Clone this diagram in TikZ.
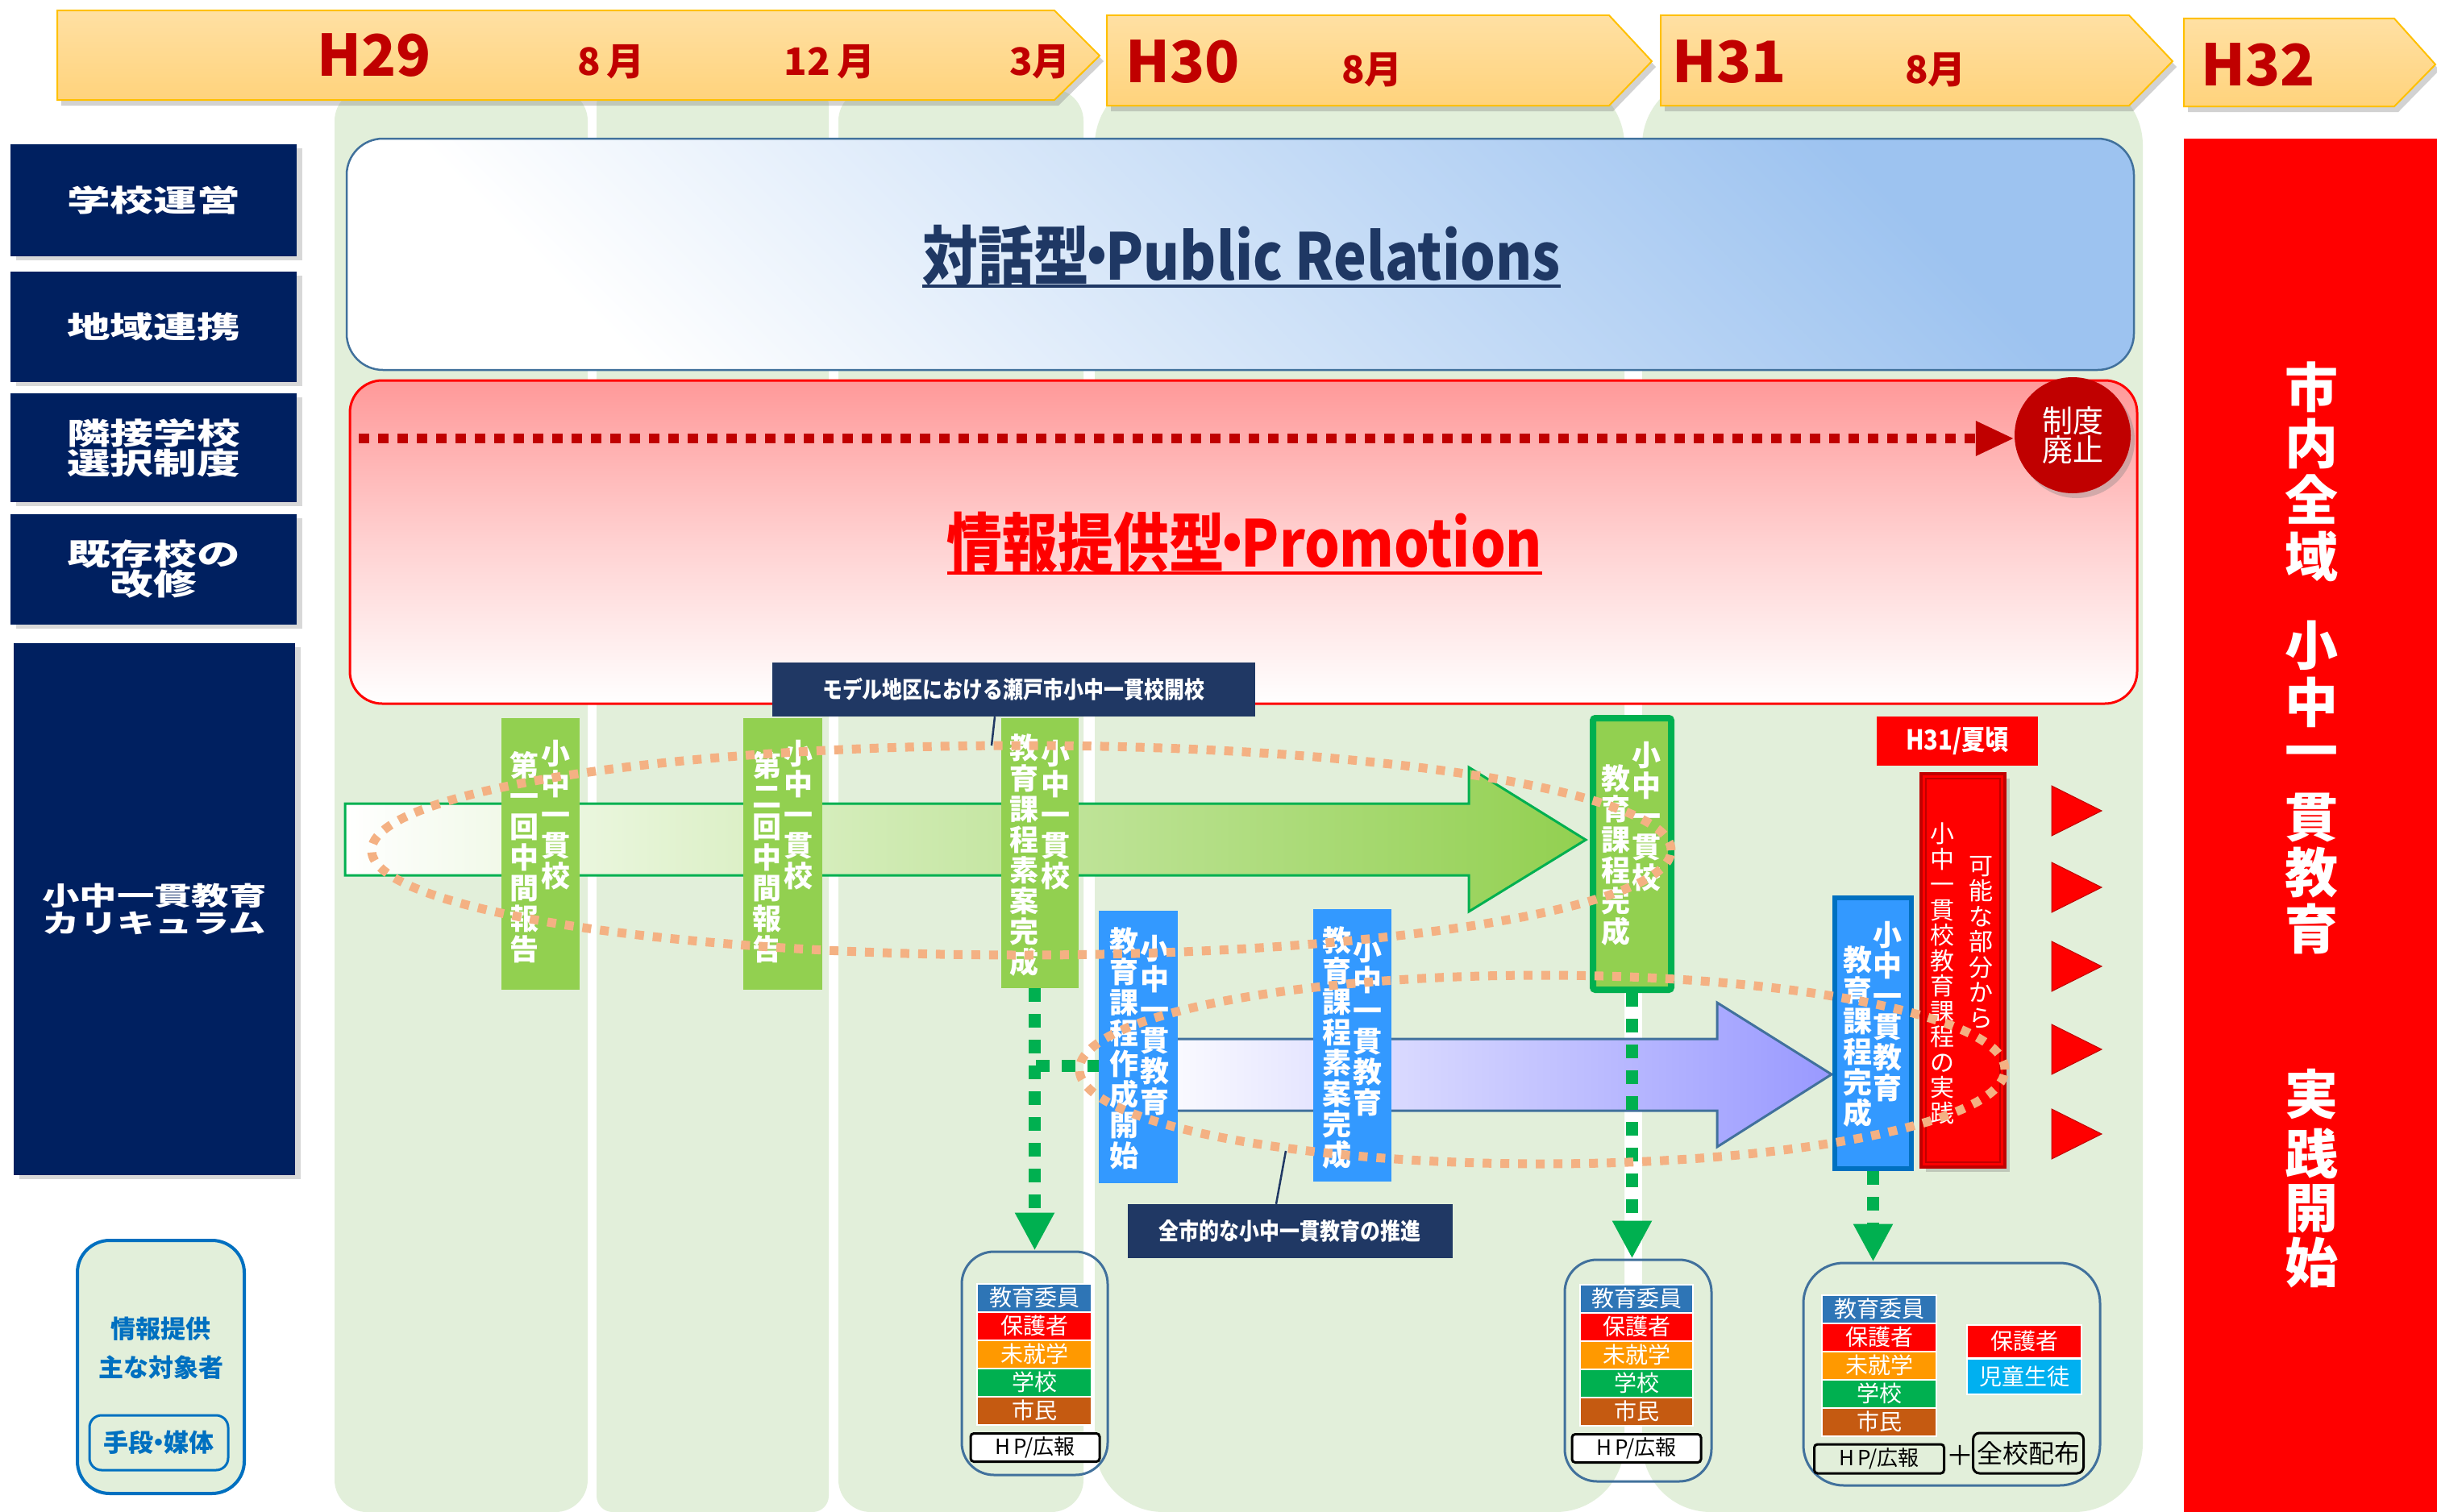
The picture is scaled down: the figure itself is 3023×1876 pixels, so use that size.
\documentclass[tikz,border=0pt]{standalone}
\usepackage{fontspec}
\setmainfont{Noto Sans CJK JP}
\newfontfamily\jp{Noto Sans CJK JP}
\newfontfamily\jpw{Noto Sans CJK JP}[FakeStretch=1.45]
\newfontfamily\jpn{Noto Sans CJK JP}[FakeStretch=0.86]
\usetikzlibrary{arrows.meta,shadows}
\newcommand{\tdot}{\hspace{-0.3em}・\hspace{-0.3em}}
\definecolor{navyc}{HTML}{002060}
\definecolor{calloutc}{HTML}{203864}
\definecolor{titlec}{HTML}{1F3864}
\definecolor{gboxc}{HTML}{92D050}
\definecolor{dgreen}{HTML}{00B050}
\definecolor{bboxc}{HTML}{3399FF}
\definecolor{bborder}{HTML}{0070C0}
\definecolor{tagblue}{HTML}{2E75B6}
\definecolor{tagorange}{HTML}{FF9900}
\definecolor{tagbrown}{HTML}{C55A11}
\definecolor{tagcyan}{HTML}{00B0F0}
\definecolor{colbg}{HTML}{E2EFDA}
\definecolor{hdrtop}{HTML}{FFE0A3}
\definecolor{hdrbot}{HTML}{FFD37C}
\definecolor{hdrline}{HTML}{FFC000}
\definecolor{hdrtext}{HTML}{C00000}
\definecolor{dotc}{HTML}{F4B183}
\definecolor{dkred}{HTML}{C00000}
\definecolor{pureRed}{HTML}{FF0000}
\definecolor{steel}{HTML}{41719C}
\definecolor{prblue}{HTML}{9DC3F0}
\definecolor{pinkc}{HTML}{FF9999}
\definecolor{violetc}{HTML}{9999FF}
\begin{document}
\begin{tikzpicture}[x=1pt,y=-1pt,
  hdr/.style={top color=hdrtop,bottom color=hdrbot,draw=hdrline,line width=2pt,
    drop shadow={shadow xshift=5pt,shadow yshift=-7pt,opacity=.35}},
  hdrt/.style={text=hdrtext,font=\jp\bfseries\fontsize{71}{71}\selectfont,inner sep=0},
  hdrm/.style={text=hdrtext,font=\jp\bfseries\fontsize{47}{47}\selectfont,inner sep=0},
  cat/.style={fill=navyc,text=white,align=center,inner sep=0,
    font=\jpw\bfseries\fontsize{37}{37}\selectfont,
    drop shadow={shadow xshift=7pt,shadow yshift=-5pt,opacity=.3}},
  legt/.style={text=bborder,font=\jp\bfseries\fontsize{31}{31}\selectfont,inner sep=0},
  ttl/.style={font=\jpn\bfseries\fontsize{80}{80}\selectfont,inner sep=0,anchor=base},
  callout/.style={fill=calloutc,text=white,inner sep=0,font=\jpn\bfseries\fontsize{29}{29}\selectfont},
  callline/.style={draw=calloutc,line width=2.5pt},
  gbox/.style={fill=gboxc,inner sep=0},
  bbox/.style={fill=bboxc,inner sep=0},
  vt/.style={align=center,inner sep=0,anchor=north,text=white,font=\jp\bfseries\fontsize{36}{38}\selectfont},
  vtr/.style={align=center,inner sep=0,anchor=north,text=white,font=\jp\fontsize{30}{31.5}\selectfont},
  dots/.style={draw=dotc,line width=11pt,dash pattern=on 11pt off 11pt},
  gdash/.style={draw=dgreen,line width=15pt,dash pattern=on 17pt off 15pt},
  gtip/.style={-{Triangle[length=47pt,width=46pt]}},
  outbox/.style={draw=steel,line width=3pt,rounded corners=40pt,inner sep=0},
  tag/.style={draw=white,line width=2pt,text=white,inner sep=0,
    font=\jp\fontsize{28}{28}\selectfont,minimum width=142pt,minimum height=35pt},
  hp/.style={draw=black,line width=3pt,rounded corners=4pt,inner sep=0,
    font=\jp\fontsize{26}{26}\selectfont,minimum width=160pt,minimum height=35pt},
  bigtxt/.style={text=white,inner sep=0,font=\jp\bfseries\fontsize{66}{66}\selectfont},
  tri/.style={fill=pureRed,draw=dkred,line width=1pt}
]
\useasboundingbox (0,0) rectangle (3023,1876);
\fill[white] (0,0) rectangle (3023,1876);

% ---- background columns
\fill[colbg,rounded corners=40pt] (415,110) rectangle (729,1876);
\fill[colbg,rounded corners=20pt] (740,110) rectangle (1028,1876);
\fill[colbg,rounded corners=40pt] (1040,110) rectangle (1344,1876);
\fill[colbg,rounded corners=85pt] (1358,95) rectangle (2015,1876);
\fill[colbg,rounded corners=85pt] (2037,95) rectangle (2658,1876);

% ---- header arrows
\path[hdr] (71,13) -- (1308,13) -- (1364,69) -- (1308,124) -- (71,124) -- cycle;
\path[hdr] (1373,19) -- (1996,19) -- (2049,76) -- (1996,131) -- (1373,131) -- cycle;
\path[hdr] (2060,19) -- (2641,19) -- (2695,76) -- (2641,131) -- (2060,131) -- cycle;
\path[hdr] (2709,23) -- (2970,23) -- (3021,80) -- (2970,132) -- (2709,132) -- cycle;
\node[hdrt] (h29) at (464,69) {H29};
\node[hdrm] (m8a) at (758,77) {8\,月};
\node[hdrm] (m12) at (1029,77) {12\,月};
\node[hdrm] (m3) at (1290,77) {3月};
\node[hdrt] (h30) at (1467,77) {H30};
\node[hdrm] (m8b) at (1702,87) {8月};
\node[hdrt] (h31) at (2145,77) {H31};
\node[hdrm] (m8c) at (2401,87) {8月};
\node[hdrt] (h32) at (2801,81) {H32};

% ---- category boxes
\node[cat,minimum width=355pt,minimum height=139pt] (c1) at (190.5,248.5) {学校運営};
\node[cat,minimum width=355pt,minimum height=137pt] (c2) at (190.5,405.5) {地域連携};
\node[cat,minimum width=355pt,minimum height=135pt] (c3) at (190.5,555.5) {隣接学校\\選択制度};
\node[cat,minimum width=355pt,minimum height=137pt] (c4) at (190.5,706.5) {既存校の\\改修};
\node[cat,minimum width=349pt,minimum height=660pt,font=\jpw\bfseries\fontsize{32}{34}\selectfont] (c5) at (191.5,1128) {小中一貫教育\\カリキュラム};

% ---- legend
\node[draw=bborder,line width=4pt,fill=colbg,rounded corners=40pt,minimum width=207pt,minimum height=314pt,inner sep=0] (leg) at (199.5,1696) {};
\node[legt] (leg1) at (199.5,1649) {情報提供};
\node[legt] (leg2) at (199.5,1697) {主な対象者};
\node[legt,draw=bborder,line width=3pt,rounded corners=15pt,minimum width=172pt,minimum height=68pt] (leg3) at (197,1790) {手段\tdot 媒体};

% ---- big boxes
\path[draw=steel,line width=2.5pt,top color=prblue,bottom color=white,shading angle=-45,rounded corners=45pt] (430,172) rectangle (2647,459);
\node[ttl,text=titlec] (t1) at (1540,347) {対話型\tdot Public Relations};
\draw[titlec,line width=4pt] ([yshift=-8pt]t1.base west) -- ([yshift=-8pt]t1.base east);

\path[draw=pureRed,line width=3pt,top color=pinkc,bottom color=white,middle color=pinkc!45!white,rounded corners=40pt] (434,472) rectangle (2651,873);
\node[ttl,text=pureRed] (t2) at (1544,703) {情報提供型\tdot Promotion};
\draw[pureRed,line width=4pt] ([yshift=-8pt]t2.base west) -- ([yshift=-8pt]t2.base east);

\node[circle,fill=dkred,minimum size=144pt,inner sep=0,text=white,align=center,
  font=\jp\fontsize{38}{35}\selectfont,drop shadow={shadow xshift=5pt,shadow yshift=-6pt,opacity=.35}] (haishi) at (2571,540) {制度\\廃止};
\coordinate (rs) at (445,544);
\draw[dkred,line width=12pt,dash pattern=on 13pt off 11pt,-{Triangle[length=48pt,width=40pt]}] (rs) -- (haishi.west |- rs);

% ---- callout 1
\node[callout,minimum width=599pt,minimum height=67pt] (m1) at (1257,855.5) {モデル地区における瀬戸市小中一貫校開校};
\coordinate (p1) at (1230,925);
\draw[callline] ([xshift=-23pt]m1.south) -- (p1);

% ---- big arrows
\path[draw=dgreen,line width=3pt,left color=white,right color=gboxc]
  (428,997) -- (1822,997) -- (1822,952) -- (1967,1042) -- (1822,1131) -- (1822,1086) -- (428,1086) -- cycle;
\path[draw=steel,line width=3pt,left color=white,right color=violetc]
  (1412,1289) -- (2130,1289) -- (2130,1244) -- (2272,1333) -- (2130,1423) -- (2130,1378) -- (1412,1378) -- cycle;

% ---- boxes
\node[gbox,minimum width=97pt,minimum height=337pt] (g1) at (670.5,1059.5) {};
\node[gbox,minimum width=98pt,minimum height=337pt] (g2) at (971,1059.5) {};
\node[gbox,minimum width=96pt,minimum height=335pt] (g3) at (1290,1058.5) {};
\node[gbox,draw=dgreen,line width=8pt,rounded corners=3pt,minimum width=97pt,minimum height=337pt] (g4) at (2024.5,1059.5) {};
\node[bbox,minimum width=98pt,minimum height=338pt] (b5) at (1412,1299) {};
\node[bbox,minimum width=97pt,minimum height=338pt] (b6) at (1677.5,1297) {};
\node[bbox,draw=bborder,line width=6pt,minimum width=95pt,minimum height=336pt] (b7) at (2323.5,1282) {};
\node[fill=pureRed,draw=dkred,line width=4pt,inner sep=0,minimum width=104pt,minimum height=488pt,
  drop shadow={shadow xshift=6pt,shadow yshift=-6pt,opacity=.35}] (rb) at (2435,1204) {};
\draw[dkred,line width=1.5pt] ([shift={(8pt,-8pt)}]rb.north west) rectangle ([shift={(-8pt,8pt)}]rb.south east);
\node[fill=pureRed,inner sep=0,minimum width=200pt,minimum height=61pt,text=white,
  font=\jpn\bfseries\fontsize{34}{34}\selectfont] (lbl) at (2428,919.5) {H31/夏頃};
\foreach \yy [count=\k] in {1006,1101,1199,1302,1407}
  \path[tri] (2545,\yy-31) -- (2607,\yy) -- (2545,\yy+31) -- cycle;

% ---- big red box
\node[fill=pureRed,inner sep=0,minimum width=314pt,minimum height=1704pt,anchor=north west] (bigred) at (2709,172) {};
\foreach \c/\yy [count=\k] in {市/480,内/550,全/620,域/690,小/801,中/871,一/941,貫/1014,教/1083,育/1152,実/1358,践/1431,開/1500,始/1567}
  \node[bigtxt] (bt\k) at (2867,\yy) {\c};

% ---- target boxes
\node[outbox,minimum width=181pt,minimum height=277pt] (ba) at (1283.5,1691.5) {};
\node[outbox,minimum width=182pt,minimum height=275pt] (bb) at (2032,1700.5) {};
\node[outbox,rounded corners=50pt,minimum width=368pt,minimum height=276pt] (bc) at (2421,1705) {};

% ---- dashed connectors
\coordinate (j1) at (1285,1322);
\draw[gdash,gtip] (ba.north |- g3.south) -- (ba.north);
\draw[gdash] (j1) -- (b5.west |- j1);
\draw[gdash,gtip] (g4.south) -- (g4.south |- bb.north);
\draw[gdash,gtip] (b7.south) -- (b7.south |- bc.north);

% ---- tags
\foreach \nm/\cl [count=\k] in {教育委員/tagblue,保護者/pureRed,未就学/tagorange,学校/dgreen,市民/tagbrown}{
  \node[tag,fill=\cl] (ta\k) at (1283,1575+35*\k) {\nm};
  \node[tag,fill=\cl,minimum width=140pt] (tb\k) at (2030,1576+35*\k) {\nm};
  \node[tag,fill=\cl] (tc\k) at (2331,1589+35*\k) {\nm};
}
\node[tag,fill=pureRed,minimum height=41pt] (tc6) at (2511,1664) {保護者};
\node[tag,fill=tagcyan,minimum height=44pt] (tc7) at (2511,1708) {児童生徒};
\node[hp,fill=white] (hpa) at (1284,1796) {H\,P/広報};
\node[hp,fill=white] (hpb) at (2030,1797) {H\,P/広報};
\node[hp,minimum width=161pt,minimum height=36pt] (hpc) at (2331,1810) {H\,P/広報};
\node[inner sep=0,font=\jp\fontsize{34}{34}\selectfont] (plus) at (2431,1806) {＋};
\node[hp,rounded corners=8pt,minimum width=137pt,minimum height=50pt,font=\jp\fontsize{32}{32}\selectfont] (zenko) at (2516,1803) {全校配布};

% ---- vertical texts
\node[vt] (v1r) at (689,918) {小\\中\\一\\貫\\校};
\node[vt] (v1l) at (650,932) {第\\一\\回\\中\\間\\報\\告};
\node[vt] (v2r) at (990,918) {小\\中\\一\\貫\\校};
\node[vt] (v2l) at (951,932) {第\\二\\回\\中\\間\\報\\告};
\node[vt] (v3r) at (1309,918) {小\\中\\一\\貫\\校};
\node[vt] (v3l) at (1270,910) {教\\育\\課\\程\\素\\案\\完\\成};
\node[vt] (v4r) at (2042,920) {小\\中\\一\\貫\\校};
\node[vt] (v4l) at (2004,948) {教\\育\\課\\程\\完\\成};
\node[vt] (v5r) at (1432,1160) {小\\中\\一\\貫\\教\\育};
\node[vt] (v5l) at (1394,1150) {教\\育\\課\\程\\作\\成\\開\\始};
\node[vt] (v6r) at (1696,1161) {小\\中\\一\\貫\\教\\育};
\node[vt] (v6l) at (1658,1149) {教\\育\\課\\程\\素\\案\\完\\成};
\node[vt] (v7r) at (2341,1143) {小\\中\\一\\貫\\教\\育};
\node[vt] (v7l) at (2304,1173) {教\\育\\課\\程\\完\\成};
\node[vtr] (vrr) at (2457,1062) {可\\能\\な\\部\\分\\か\\ら};
\node[vtr] (vrl) at (2409,1021) {小\\中\\一\\貫\\校\\教\\育\\課\\程\\の\\実\\践};

% ---- dotted ellipses
\draw[dots] (1267,1055) ellipse [x radius=806pt,y radius=130pt];
\draw[dots] (1913,1327) ellipse [x radius=574pt,y radius=117pt];

% ---- callout 2
\node[callout,minimum width=403pt,minimum height=67pt] (m2) at (1600,1527.5) {全市的な小中一貫教育の推進};
\coordinate (p2) at (1595,1428);
\draw[callline] ([xshift=-17pt]m2.north) -- (p2);
\end{tikzpicture}
\end{document}
